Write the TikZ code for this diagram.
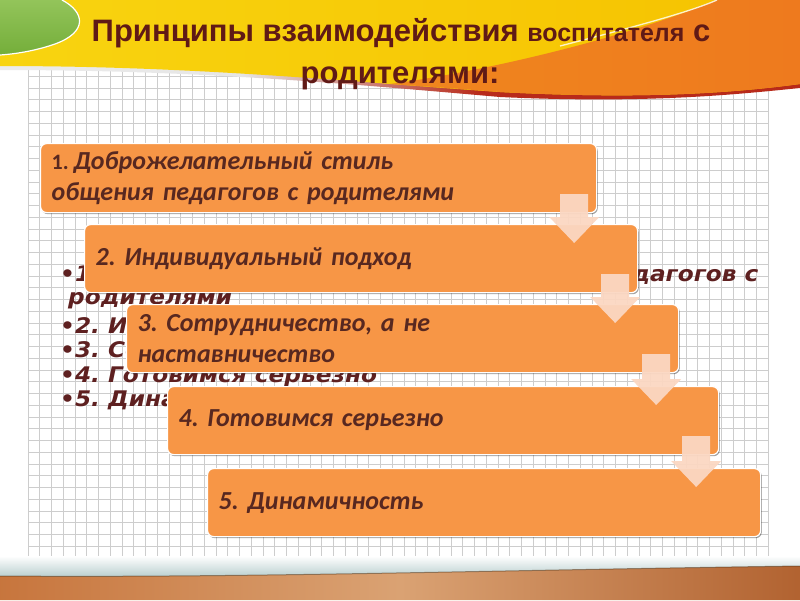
\documentclass[tikz,border=0pt]{standalone}
\usepackage{fontspec}
\setmainfont{Liberation Sans}
\newfontfamily\boxfont{Carlito}
\newfontfamily\bgfont[FakeStretch=1.08]{DejaVu Sans}
\newfontfamily\titlefont{Liberation Sans}
\frenchspacing
\DeclareRobustCommand\boxsp{\frenchspacing\spaceskip=0.22em plus 0.1em minus 0.05em\relax}
\usetikzlibrary{shadows,calc}
\definecolor{boxor}{HTML}{F79646}
\definecolor{boxtxt}{HTML}{582820}
\definecolor{titlec}{HTML}{601A16}
\definecolor{bgtxt}{HTML}{5E2020}
\definecolor{arrowc}{HTML}{FBD7C2}
\definecolor{gridc}{HTML}{CDCDCD}
\definecolor{ylw}{HTML}{F8D410}
\definecolor{ylw2}{HTML}{F6C200}
\definecolor{orng}{HTML}{F0861E}
\definecolor{orng2}{HTML}{EE7A1E}
\definecolor{grn}{HTML}{74AE3A}
\definecolor{grnl}{HTML}{93C45A}
\definecolor{bandA}{HTML}{A9623E}
\definecolor{bandB}{HTML}{C2692E}
\definecolor{bandC}{HTML}{DAA273}
\definecolor{bandD}{HTML}{B0602E}
\definecolor{bandE}{HTML}{B89886}
\definecolor{redsh}{HTML}{B82A1A}
\pgfdeclarehorizontalshading{bandsh}{100bp}{color(0bp)=(bandA); color(18bp)=(bandB); color(50bp)=(bandC); color(76bp)=(bandD); color(100bp)=(bandE)}
\pgfdeclarehorizontalshading{redband}{100bp}{color(0bp)=(white!92!gray); color(40bp)=(white!80!gray); color(55bp)=(redsh); color(85bp)=(redsh); color(100bp)=(white!75!gray)}
\begin{document}
\begin{tikzpicture}[x=1pt,y=-1pt,
  pbox/.style={rounded corners=6pt, fill=boxor, draw=white, line width=1.2pt,
    drop shadow={shadow xshift=1.2pt, shadow yshift=-1.6pt, fill=black, opacity=0.35},
    anchor=north west, minimum height=68pt, inner xsep=11pt, inner ysep=0pt,
    align=left, text=boxtxt, font=\boxfont\bfseries\itshape\fontsize{26}{31}\selectfont\boxsp},
  bgtext/.style={anchor=base west, inner sep=0pt, text=bgtxt, font=\bgfont\bfseries\itshape\fontsize{21.5}{24}\selectfont},
  arrowfill/.style={fill=arrowc, opacity=0.95},
  titletext/.style={anchor=base, inner sep=0pt, text=titlec, font=\titlefont\bfseries\fontsize{31}{36}\selectfont}]
\useasboundingbox (0,0) rectangle (800,600);
\fill[white] (0,0) rectangle (800,600);
% grid
\draw[gridc, line width=0.8pt] foreach \i in {0,...,63} {(28+\i*11.75,60) -- (28+\i*11.75,558)};
\draw[gridc, line width=0.8pt] foreach \j in {0,...,42} {(28,558-\j*11.75) -- (768,558-\j*11.75)};
% banner shadow
\shade[shading=redband] (0,70) .. controls (200,70) and (350,84) .. (500,97) .. controls (650,104) and (740,94) .. (800,88) -- (800,60) -- (0,60) -- cycle;
% banner
\shade[left color=ylw, right color=ylw2] (0,0) -- (800,0) -- (800,84) .. controls (740,92) and (650,100) .. (500,92) .. controls (350,82) and (200,66) .. (0,66) -- cycle;
\shade[left color=orng, right color=orng2] (717,0) -- (800,0) -- (800,84) .. controls (740,92) and (650,100) .. (500,92) .. controls (450,88) and (420,86) .. (390,84) .. controls (480,72) and (620,40) .. (717,0) -- cycle;
\draw[white, line width=1.3pt, opacity=0.8] (560,46) .. controls (630,28) and (690,12) .. (717,0);
\shade[top color=grnl, bottom color=grn] (0,0) -- (62,0) .. controls (85,12) and (88,32) .. (55,44) .. controls (35,51) and (15,54) .. (0,55) -- cycle;
\draw[white, line width=1.2pt] (62,0) .. controls (85,12) and (88,32) .. (55,44) .. controls (35,51) and (15,54) .. (0,55);
% title
\node[titletext] (t1) at (401,41) {Принципы взаимодействия {\fontsize{25}{30}\selectfont воспитателя} с};
\node[titletext] (t2) at (400,83) {родителями:};
% bottom band
\shade[top color=white, bottom color=white!85!cyan!60!gray] (0,556) rectangle (800,578);
\shade[shading=bandsh] (0,576) .. controls (250,578) and (500,570) .. (800,566) -- (800,600) -- (0,600) -- cycle;
\draw[black!60!brown, line width=1pt, opacity=0.5] (0,576) .. controls (250,578) and (500,570) .. (800,566);
% background list
\node[bgtext] (l1) at (60,281) {•1. Доброжелательный стиль общения педагогов с};
\node[bgtext] (l1b) at (68,304) {родителями};
\node[bgtext] (l2) at (60,333) {•2. Индивидуальный подход};
\node[bgtext] (l3) at (60,357) {•3. Сотрудничество, а не наставничество};
\node[bgtext] (l4) at (60,382) {•4. Готовимся серьезно};
\node[bgtext] (l5) at (60,406) {•5. Динамичность};
% boxes
\node[pbox, minimum height=69pt, text width=534pt] (b1) at (40,143) {{\upshape\fontsize{22}{31}\selectfont 1.}\hspace{5pt}Доброжелательный стиль\\общения педагогов с родителями};
\node[pbox, text width=531pt] (b2) at (84,224) {2. Индивидуальный подход};
\node[pbox, text width=530pt] (b3) at (126,304) {3. Сотрудничество, а не\\наставничество};
\node[pbox, text width=529pt] (b4) at (167,386) {4. Готовимся серьезно};
\node[pbox, text width=531pt] (b5) at (207,468) {5. Динамичность};
% arrows
\foreach \a/\b in {b1/b2,b2/b3,b3/b4,b4/b5}{
  \fill[arrowfill] let \p1=(\a.south east), \p2=(\b.north) in
    (\x1-37pt,\y1+19pt) -- (\x1-9pt,\y1+19pt) -- (\x1-9pt,\y2+7pt) -- (\x1+2pt,\y2+7pt)
    -- (\x1-23pt,\y2-19pt) -- (\x1-48pt,\y2+7pt) -- (\x1-37pt,\y2+7pt) -- cycle;
}
\end{tikzpicture}
\end{document}
